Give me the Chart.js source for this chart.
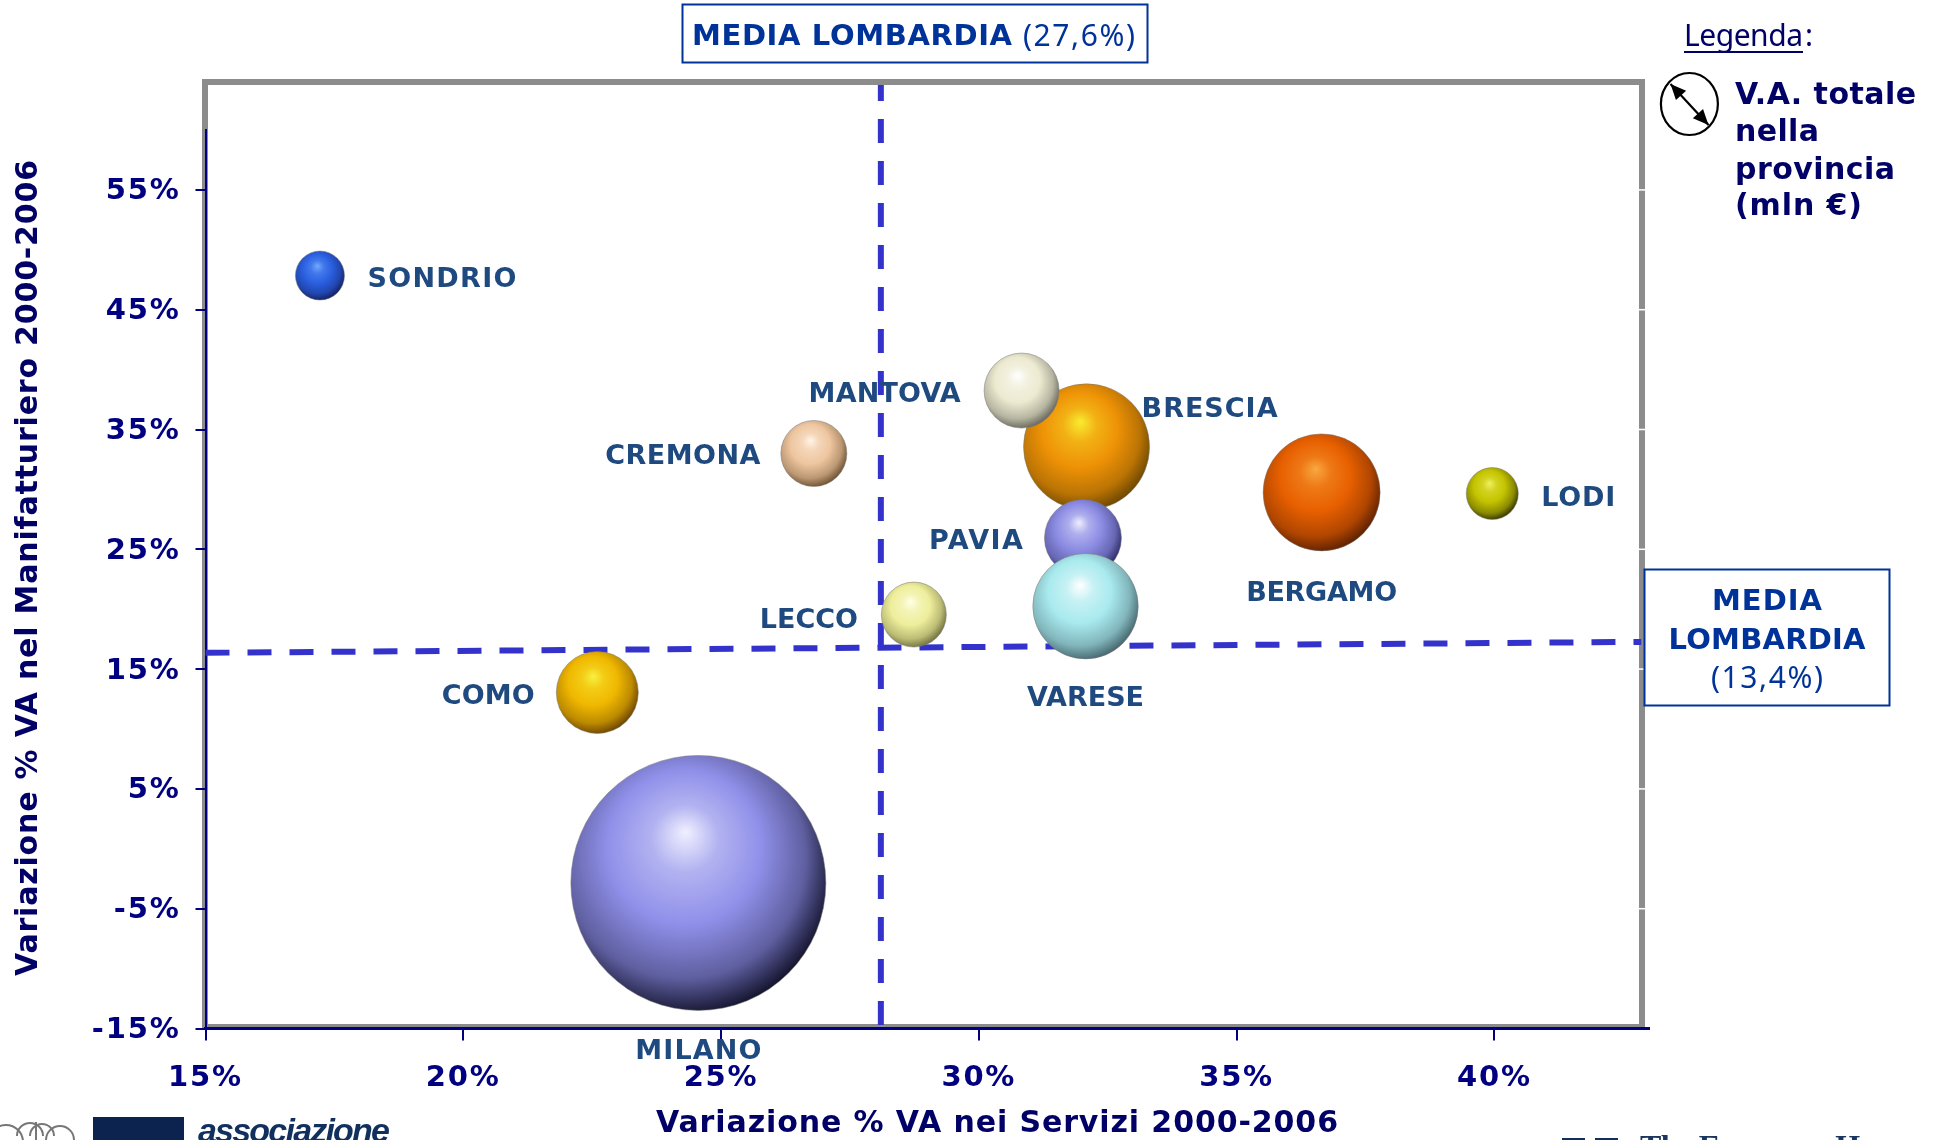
<!DOCTYPE html>
<html><head><meta charset="utf-8">
<style>html,body{margin:0;padding:0;background:#fff}canvas{display:block}</style>
<script src="https://cdn.jsdelivr.net/npm/chart.js@4"></script>
</head><body><canvas id="c" width="1937" height="1140"></canvas>
<script>
const provinces=['BRESCIA','MANTOVA','PAVIA','VARESE','SONDRIO','BERGAMO','LODI','CREMONA','LECCO','COMO','MILANO'];
const serviziPct=[32.09,30.83,32.02,32.07,17.22,36.65,39.96,26.8,28.74,22.6,24.56];
const manifatturaPct=[33.55,38.25,25.95,20.25,47.85,29.75,29.65,33,19.55,13.05,-2.85];
const bubbleRadius=[63,37.5,38.5,52.7,24.5,58.5,26,33,32.5,41,127.5];
const xTicks=[15,20,25,30,35,40];
const yTicks=[-15,-5,5,15,25,35,45,55];
const mediaVerticalX=[28.1,28.1];
const mediaVerticalY=[63.76,-15];
const mediaHorizontalX=[15,42.85];
const mediaHorizontalY=[16.36,17.27];

const sphereBase=['#ee9206','#ecead0','#8c8ce4','#a8eaee','#2a5fe0','#e86000','#c4c400','#eec6a0','#eeee9c','#f0b800','#9090ea'];
const sphereLight=['#f8ec30','#ffffff','#eeeeff','#ffffff','#70aaff','#f8a840','#f0f060','#fff4e6','#ffffe8','#f8f040','#f0f0ff'];
const sphereDark=['#6e4800','#66665a','#2c2c68','#46666e','#141f60','#5e2000','#363600','#6e5030','#70703e','#6e4400','#14142e'];
const labelOffset=[[123,-37],[-137,4],[-107,4],[0,93],[122,4],[0,102],[86,5],[-131,4],[-105,6],[-109,5],[0,169]];
const labelWidth=[136,152,94,117,149,151,74,155,98,93,126];

const NAVY='#000080',DEEP='#000066',BOX='#003399',LABEL='#1f4a80',DASH='#3333cc';
const BOLD='"DejaVu Sans"',THIN='"Noto Sans"';

function put(ctx,str,x,y,o){
  ctx.save();
  ctx.font=o.font;ctx.fillStyle=o.color;ctx.textBaseline='middle';ctx.textAlign='left';
  ctx.letterSpacing='0px';
  if(o.rot){ctx.translate(x,y);ctx.rotate(o.rot);x=0;y=0;}
  const w=ctx.measureText(str).width;
  const target=o.width||w;
  ctx.letterSpacing=((target-w)/Math.max(1,str.length-1)).toFixed(3)+'px';
  const left=o.left?x:x-target/2;
  ctx.fillText(str,left,y);
  ctx.restore();
  return left+target;
}

function mix(a,b,t){
  const p=h=>[1,3,5].map(k=>parseInt(h.substr(k,2),16));
  const A=p(a),B=p(b);
  return 'rgb('+A.map((v,k)=>Math.round(v+(B[k]-v)*t)).join(',')+')';
}

function sphereFill(c){
  if(!c.raw||!c.chart.scales.x)return '#888';
  const px=c.chart.scales.x.getPixelForValue(c.raw.x),py=c.chart.scales.y.getPixelForValue(c.raw.y),r=c.raw.r,i=c.dataIndex;
  if(!isFinite(px)||!isFinite(py)||!isFinite(r))return '#888';
  const g=c.chart.ctx.createRadialGradient(px-.1*r,py-.4*r,0,px-.12*r,py-.16*r,1.2*r);
  g.addColorStop(0,sphereLight[i]);
  g.addColorStop(.22,mix(sphereLight[i],sphereBase[i],.65));
  g.addColorStop(.5,sphereBase[i]);
  g.addColorStop(.8,mix(sphereBase[i],sphereDark[i],.4));
  g.addColorStop(1,sphereDark[i]);
  return g;
}

const backdrop={id:'backdrop',beforeDraw(ch){
  const ctx=ch.ctx,{y}=ch.scales;
  ctx.save();
  ctx.strokeStyle='#8c8c8c';ctx.lineWidth=6;
  ctx.strokeRect(205,82,1437,945);
  ctx.fillStyle='#fff';
  yTicks.forEach(v=>{ctx.fillRect(1638,y.getPixelForValue(v)-.75,8,1.5);});
  ctx.restore();
  ctx.letterSpacing='1.8px';
}};

const overlay={id:'overlay',afterDatasetsDraw(ch){
  const ctx=ch.ctx,{x,y}=ch.scales;
  ctx.letterSpacing='0px';
  provinces.forEach((n,i)=>{
    put(ctx,n,x.getPixelForValue(serviziPct[i])+labelOffset[i][0],y.getPixelForValue(manifatturaPct[i])+labelOffset[i][1],
      {font:'bold 27px '+BOLD,color:LABEL,width:labelWidth[i]});
  });
  put(ctx,'Variazione % VA nei Servizi 2000-2006',997,1124,{font:'bold 30px '+BOLD,color:DEEP,width:682});
  put(ctx,'Variazione % VA nel Manifatturiero 2000-2006',29.5,568,{font:'bold 30px '+BOLD,color:DEEP,width:816,rot:-Math.PI/2});
  ctx.save();ctx.strokeStyle=BOX;ctx.lineWidth=2;
  ctx.strokeRect(682.5,4.5,465,58);
  ctx.strokeRect(1644.5,569.5,245,136);
  ctx.restore();
  const e=put(ctx,'MEDIA LOMBARDIA',692,37,{font:'bold 29px '+BOLD,color:BOX,width:320,left:true});
  put(ctx,'(27,6%)',e+11,37,{font:'30px '+THIN,color:BOX,width:112,left:true});
  put(ctx,'MEDIA',1767,602,{font:'bold 29px '+BOLD,color:BOX,width:110});
  put(ctx,'LOMBARDIA',1767,641,{font:'bold 29px '+BOLD,color:BOX,width:197});
  put(ctx,'(13,4%)',1767,679,{font:'30px '+THIN,color:BOX,width:112});
  const lx=put(ctx,'Legenda',1684,37,{font:'30px '+THIN,color:DEEP,width:119,left:true});
  put(ctx,':',lx+2,37,{font:'30px '+THIN,color:DEEP,left:true});
  ctx.save();
  ctx.fillStyle=DEEP;ctx.fillRect(1684,51,119,2);
  ctx.strokeStyle='#000';ctx.lineWidth=2.2;
  ctx.beginPath();ctx.ellipse(1689.4,104,28.5,31,0,0,Math.PI*2);ctx.stroke();
  const a=[1670.5,84],b=[1708.5,125],ang=Math.atan2(b[1]-a[1],b[0]-a[0]);
  ctx.beginPath();ctx.moveTo(a[0],a[1]);ctx.lineTo(b[0],b[1]);ctx.stroke();
  ctx.fillStyle='#000';
  [[a,ang],[b,ang+Math.PI]].forEach(([p,t])=>{
    ctx.beginPath();ctx.moveTo(p[0],p[1]);
    ctx.lineTo(p[0]+17*Math.cos(t-.42),p[1]+17*Math.sin(t-.42));
    ctx.lineTo(p[0]+17*Math.cos(t+.42),p[1]+17*Math.sin(t+.42));
    ctx.closePath();ctx.fill();
  });
  ctx.restore();
  const leg={font:'bold 30px '+BOLD,color:DEEP,left:true};
  put(ctx,'V.A. totale',1735,96.5,{...leg,width:181});
  put(ctx,'nella',1735,133.5,{...leg,width:84});
  put(ctx,'provincia',1735,171.5,{...leg,width:160});
  put(ctx,'(mln €)',1735,207.5,{...leg,width:127});
  ctx.save();
  ctx.fillStyle='#0c2350';ctx.fillRect(93,1117,91,23);
  ctx.strokeStyle='#777';ctx.lineWidth=2;
  [[6,1142,17],[30,1136,13],[42,1136,12],[60,1140,14]].forEach(v=>{ctx.beginPath();ctx.arc(v[0],v[1],v[2],Math.PI,2*Math.PI);ctx.stroke();});
  ctx.beginPath();ctx.moveTo(36,1140);ctx.lineTo(36,1122);ctx.stroke();
  ctx.fillStyle='#12305e';
  ctx.fillRect(1562,1138,23,2);ctx.fillRect(1595,1138,23,2);
  ctx.restore();
  put(ctx,'associazione',198,1133,{font:'italic bold 34px "Liberation Sans"',color:'#12305e',width:192,left:true});
  put(ctx,'The European House',1640,1149,{font:'bold 32px "Liberation Serif"',color:'#1a3560',width:278,left:true});
}};

new Chart(document.getElementById('c'),{
  data:{datasets:[
    {type:'bubble',label:'V.A. totale',order:1,
     data:provinces.map((n,i)=>({x:serviziPct[i],y:manifatturaPct[i],r:bubbleRadius[i]})),
     backgroundColor:sphereFill,borderColor:'rgba(120,120,120,.5)',borderWidth:1,hoverRadius:0},
    {type:'line',label:'Media servizi',order:2,clip:false,pointRadius:0,borderColor:DASH,borderWidth:6,
     borderDash:[24,18],borderDashOffset:8,borderCapStyle:'butt',
     data:mediaVerticalX.map((v,i)=>({x:v,y:mediaVerticalY[i]}))},
    {type:'line',label:'Media manifattura',order:2,clip:false,pointRadius:0,borderColor:DASH,borderWidth:6,
     borderDash:[24,18],borderCapStyle:'butt',
     data:mediaHorizontalX.map((v,i)=>({x:v,y:mediaHorizontalY[i]}))}
  ]},
  plugins:[backdrop,overlay],
  options:{
    responsive:false,animation:false,
    layout:{autoPadding:false,padding:{left:0,top:130,right:288,bottom:0}},
    plugins:{legend:{display:false},tooltip:{enabled:false}},
    scales:{
      x:{type:'linear',min:15,max:43,
        afterFit(s){s.height=111.5;},
        afterBuildTicks(s){s.ticks=xTicks.map(v=>({value:v}));},
        grid:{display:true,drawOnChartArea:false,drawTicks:true,color:NAVY,lineWidth:2,tickLength:12},
        border:{display:true,color:NAVY,width:3},
        ticks:{autoSkip:false,maxRotation:0,padding:21,color:NAVY,font:{family:BOLD,weight:'bold',size:29},callback:v=>v+'%'}},
      y:{type:'linear',min:-15,max:60,
        afterFit(s){s.width=205.5;},
        afterBuildTicks(s){s.ticks=yTicks.map(v=>({value:v}));},
        grid:{display:true,drawOnChartArea:false,drawTicks:true,color:NAVY,lineWidth:2,tickLength:10},
        border:{display:true,color:NAVY,width:2},
        ticks:{autoSkip:false,padding:15,labelOffset:2,color:NAVY,font:{family:BOLD,weight:'bold',size:29},callback:v=>v+'%'}}
    }
  }
});
</script></body></html>
